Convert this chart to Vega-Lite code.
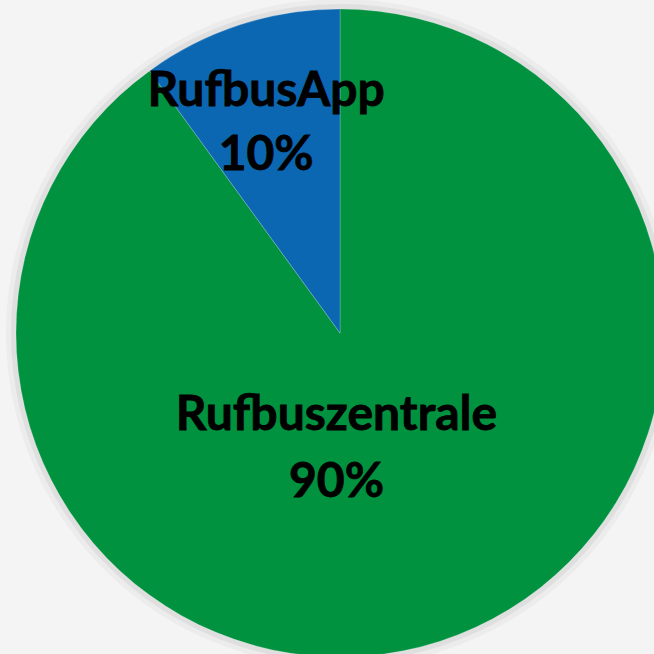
{
  "$schema": "https://vega.github.io/schema/vega-lite/v6.json",
  "width": 680,
  "height": 666,
  "padding": 0,
  "autosize": {"type": "none"},
  "background": "#f4f4f4",
  "view": {"stroke": null},
  "data": {
    "values": [
      {"idx": 1, "category": "Rufbuszentrale", "pct": 90},
      {"idx": 2, "category": "RufbusApp", "pct": 10}
    ]
  },
  "transform": [
    {"calculate": "datum.category + '\\n' + datum.pct + '%'", "as": "label"}
  ],
  "encoding": {
    "theta": {"field": "pct", "type": "quantitative", "stack": true},
    "order": {"field": "idx", "type": "quantitative"}
  },
  "layer": [
    {
      "mark": {"type": "arc", "radius": 334, "fill": "#e2e2e2", "opacity": 0.4, "stroke": null}
    },
    {
      "mark": {"type": "arc", "radius": 329, "fill": "#d0d0d0", "opacity": 0.45, "stroke": null}
    },
    {
      "mark": {"type": "arc", "radius": 324, "stroke": "#ffffff", "strokeWidth": 0.4, "strokeOpacity": 0.5},
      "encoding": {
        "color": {
          "field": "category",
          "type": "nominal",
          "scale": {"domain": ["Rufbuszentrale", "RufbusApp"], "range": ["#00923F", "#0B67B2"]},
          "legend": null
        }
      }
    },
    {
      "mark": {"type": "text", "radius": 239, "font": "Lato", "fontWeight": "bold", "fontSize": 48, "align": "center", "baseline": "alphabetic", "lineBreak": "\n", "lineHeight": 64, "color": "#000000", "stroke": "#000000", "strokeWidth": 0.8},
      "encoding": {
        "text": {"condition": {"test": "datum.category == 'RufbusApp'", "field": "label"}, "value": ""}
      }
    },
    {
      "mark": {"type": "text", "radius": 102, "dx": -35, "font": "Lato", "fontWeight": "bold", "fontSize": 48, "align": "center", "baseline": "alphabetic", "lineBreak": "\n", "lineHeight": 67, "color": "#000000", "stroke": "#000000", "strokeWidth": 0.8},
      "encoding": {
        "text": {"condition": {"test": "datum.category == 'Rufbuszentrale'", "field": "label"}, "value": ""}
      }
    }
  ]
}
